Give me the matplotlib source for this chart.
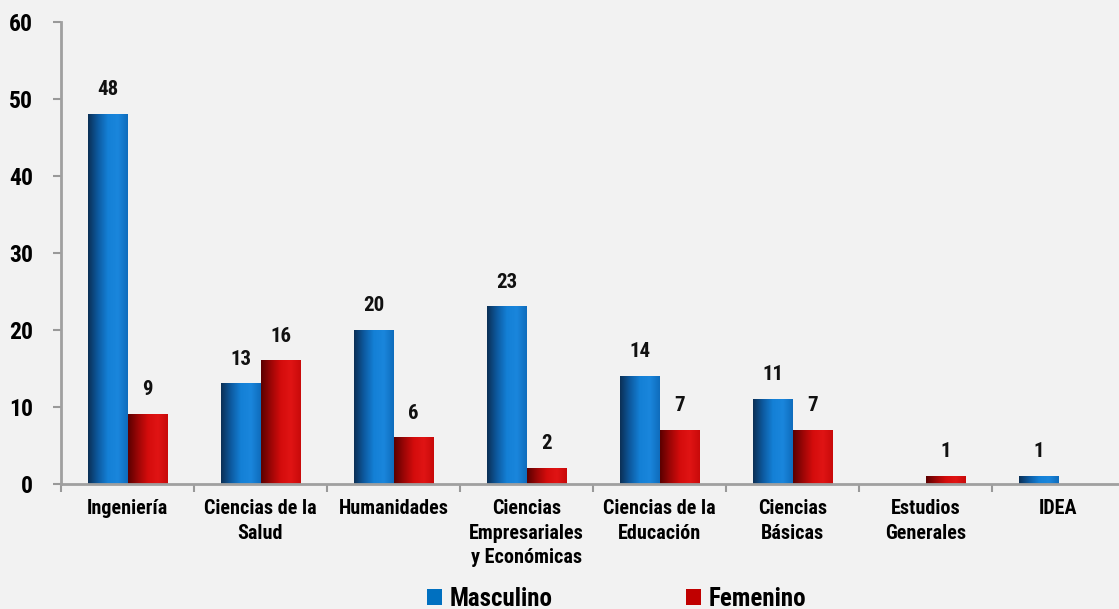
import numpy as np
import matplotlib
matplotlib.use("Agg")
import matplotlib.pyplot as plt
from matplotlib.colors import LinearSegmentedColormap
from matplotlib.patches import Patch
from matplotlib import font_manager

categories = ["Ingeniería", "Ciencias de la\nSalud", "Humanidades",
              "Ciencias\nEmpresariales\ny Económicas", "Ciencias de la\nEducación",
              "Ciencias\nBásicas", "Estudios\nGenerales", "IDEA"]
masculino = [48, 13, 20, 23, 14, 11, 0, 1]
femenino = [9, 16, 6, 2, 7, 7, 1, 0]
series_names = ["Masculino", "Femenino"]
yticks = [0, 10, 20, 30, 40, 50, 60]

avail = {f.name for f in font_manager.fontManager.ttflist}
fam = [f for f in ["Liberation Sans Narrow", "Roboto Condensed", "Liberation Sans", "DejaVu Sans"] if f in avail]
plt.rcParams['font.family'] = fam

W, H = 1119, 609
fig = plt.figure(figsize=(W/100, H/100), dpi=100)
fig.patch.set_facecolor("#f2f2f2")
ax = fig.add_axes([61/W, 125/H, 1064/W, 462/H])
ax.set_facecolor("#f2f2f2")

blue_cmap = LinearSegmentedColormap.from_list("b", ["#0b2f55", "#0d5aa0", "#1480d6", "#1a86dc", "#0f6cbc"])
red_cmap = LinearSegmentedColormap.from_list("r", ["#5a0000", "#9c0606", "#d40c0c", "#e01414", "#c80a0a"])
grad = np.linspace(0, 1, 256).reshape(1, -1)

bw = 0.30
x = np.arange(len(categories))
for vals, cmap, off in [(masculino, blue_cmap, -bw/2), (femenino, red_cmap, bw/2)]:
    bars = ax.bar(x + off, vals, width=bw, color="none", edgecolor="none")
    for b, v in zip(bars, vals):
        if v <= 0:
            continue
        x0 = b.get_x()
        ax.imshow(grad, extent=[x0, x0 + bw, 0, v], aspect='auto', cmap=cmap, zorder=2, interpolation='bilinear')
        ax.annotate(str(v), (x0 + bw/2, v), xytext=(0, 11), textcoords="offset points",
                    ha='center', va='bottom', fontsize=15, fontweight='bold', color="#111111")

ax.set_xlim(-0.5, len(categories) - 0.5)
ax.set_ylim(0, 60)
ax.set_yticks(yticks)
ax.set_yticklabels([str(t) for t in yticks], fontsize=17, fontweight='bold')
ax.set_xticks(x)
ax.set_xticklabels(categories, fontsize=14.5, fontweight='bold', linespacing=1.35, va='top')
ax.set_xticks(np.arange(len(categories) + 1) - 0.5, minor=True)
ax.tick_params(axis='x', which='major', length=0, pad=11)
ax.tick_params(axis='x', which='minor', length=6, width=1.5, color="#999999", direction='out')
ax.tick_params(axis='y', length=6, width=1.5, color="#999999", pad=14)
for s in ["top", "right"]:
    ax.spines[s].set_visible(False)
for s in ["left", "bottom"]:
    ax.spines[s].set_color("#a0a0a0")
    ax.spines[s].set_linewidth(2)

handles = [Patch(facecolor="#0070c0"), Patch(facecolor="#c00000")]
fig.legend(handles, series_names, loc='lower center', bbox_to_anchor=(0.551, -0.04), ncol=2,
           frameon=False, prop={'size': 18, 'weight': 'bold'}, columnspacing=5.35,
           handlelength=0.6, handleheight=0.6, handletextpad=0.3)

fig.savefig("out.png", dpi=100, facecolor=fig.get_facecolor())
